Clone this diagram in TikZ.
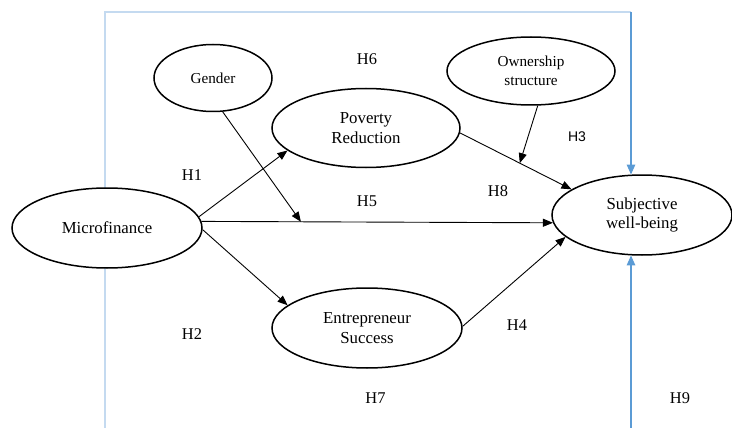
\documentclass[tikz,border=0pt]{standalone}
\usepackage{fontspec}
\setmainfont{Liberation Serif}
\newfontfamily\hsans{Liberation Sans}
\usetikzlibrary{shapes.geometric,arrows.meta}
\definecolor{blueA}{HTML}{5B9BD5}
\definecolor{blueB}{HTML}{C4DAF0}
\begin{document}
\begin{tikzpicture}[x=1pt,y=-1pt,
  latent/.style={ellipse,draw=black,line width=1.5pt,fill=white,inner sep=0pt,align=center,font=\fontsize{16.8}{19.5}\selectfont},
  smalllatent/.style={latent,font=\fontsize{15.2}{19}\selectfont},
  arr/.style={draw=black,line width=0.9pt,-{Triangle[length=10pt,width=8pt]}},
  bluearr/.style={draw=blueA,line width=1.3pt,-{Triangle[length=10pt,width=8.5pt]}},
  frameline/.style={draw=blueB,line width=1.2pt},
  hlab/.style={font=\fontsize{16.4}{19}\selectfont,inner sep=0pt},
  hsanslab/.style={font=\hsans\fontsize{14}{17}\selectfont,inner sep=0pt}]
\useasboundingbox (0,0) rectangle (732,428);

% light frame lines (behind the ellipses)
\coordinate (fbl) at (105,428);
\coordinate (ftl) at (105,12);
\coordinate (ftr) at (631,12);
\coordinate (fbr) at (631,428);
\draw[frameline] (fbl) -- (ftl) -- (ftr);

% nodes
\node[latent,minimum width=190pt,minimum height=80pt] (mf) at (107,228) {Microfinance};
\node[smalllatent,minimum width=118pt,minimum height=67pt] (gd) at (213,78) {Gender};
\node[smalllatent,minimum width=168pt,minimum height=68pt] (os) at (531,71) {Ownership\\structure};
\node[latent,minimum width=188pt,minimum height=79pt] (pr) at (366,128) {Poverty\\Reduction};
\node[latent,minimum width=190pt,minimum height=80pt] (es) at (367,328) {Entrepreneur\\Success};
\node[latent,minimum width=180pt,minimum height=80pt] (swb) at (642,215) {Subjective\\well-being};

% connectors
\draw[arr] (mf.7) -- (pr.196);
\draw[arr] (mf.4) -- (swb.185);
\draw[arr] (mf.-1) -- (es.164);
\draw[arr] (pr.-3) -- (swb.160.6);
\draw[arr] (es.1) -- (swb.196);

% moderating arrows onto paths
\path (mf.4) -- (swb.185) coordinate[pos=0.283] (gonto);
\path (pr.-3) -- (swb.160.6) coordinate[pos=0.536] (oonto);
\draw[arr] (gd.286) -- (gonto);
\draw[arr] (os.281) -- (oonto);

% blue arrows
\draw[bluearr] (ftr) -- (ftr |- swb.105.5);
\draw[bluearr] (fbr) -- (fbr |- swb.254.5);

% hypothesis labels
\node[hlab] (h6) at (367,59) {H6};
\node[hsanslab] (h3) at (577,137) {H3};
\node[hlab] (h1) at (192,175.5) {H1};
\node[hlab] (h8) at (498,191) {H8};
\node[hlab] (h5) at (367,201.5) {H5};
\node[hlab] (h2) at (192,334) {H2};
\node[hlab] (h4) at (517,325) {H4};
\node[hlab] (h7) at (375.5,398.5) {H7};
\node[hlab] (h9) at (680,398.5) {H9};
\end{tikzpicture}
\end{document}
